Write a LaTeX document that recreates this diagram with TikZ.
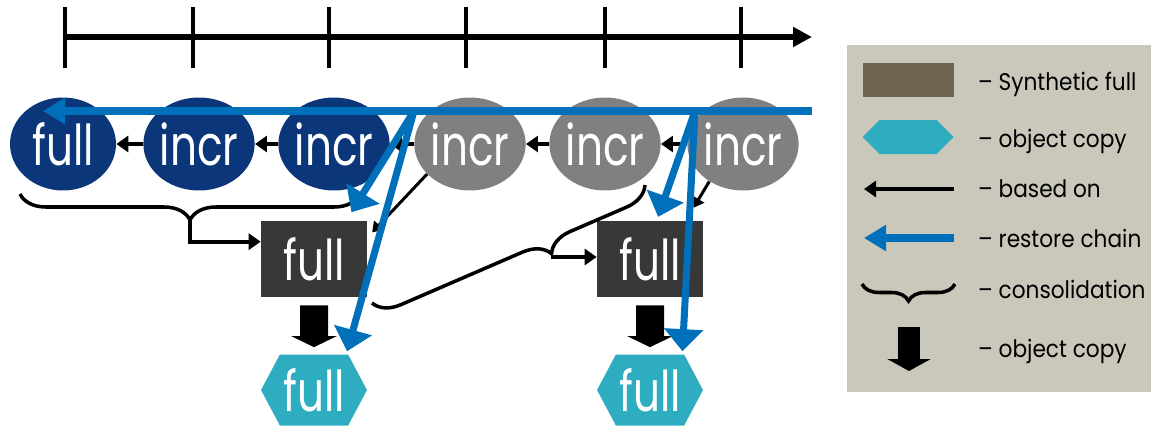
\documentclass[tikz,border=0pt]{standalone}
\usepackage{fontspec}
\setmainfont{Poppins}[FakeStretch=0.9]
\newfontfamily\chainfont{Poppins}[FakeStretch=0.75]
\usetikzlibrary{arrows.meta,shapes.geometric,shapes.symbols,decorations.pathreplacing}

\definecolor{fullblue}{RGB}{11,55,122}
\definecolor{incrgrey}{RGB}{128,128,128}
\definecolor{synthgrey}{RGB}{56,56,56}
\definecolor{copycyan}{RGB}{46,173,193}
\definecolor{restoreblue}{RGB}{0,112,186}
\definecolor{keybg}{RGB}{202,199,187}
\definecolor{keybrown}{RGB}{113,100,80}

\begin{document}
\begin{tikzpicture}[x=0.02cm,y=-0.02cm]
    \tikzset{
        bigtext/.style={text=white, font=\chainfont\fontsize{32}{32}\selectfont},
        backup/.style={ellipse, minimum width=2.12cm, minimum height=1.86cm, inner sep=0pt, bigtext},
        oldbk/.style={backup, fill=fullblue},
        newbk/.style={backup, fill=incrgrey},
        synth/.style={rectangle, fill=synthgrey, minimum width=2.12cm, minimum height=1.52cm, inner sep=0pt, bigtext},
        objcopy/.style={signal, signal to=west and east, signal pointer angle=124, fill=copycyan, minimum width=2.12cm, minimum height=1.42cm, inner sep=0pt, bigtext},
        basedon/.style={line width=2.2pt, -{Triangle[width=0.32cm,length=0.24cm]}},
        thinbased/.style={line width=1.7pt, -{Triangle[width=0.26cm,length=0.2cm]}},
        restore/.style={draw=restoreblue, line width=4pt, -{Triangle[width=0.76cm,length=0.44cm]}},
        restoreflat/.style={restore, -{Triangle[width=0.5cm,length=0.44cm]}},
        consol/.style={line width=2pt, decorate, decoration={brace, mirror, amplitude=0.52cm, aspect=#1}},
        copyarrow/.style={line width=0.56cm, -{Triangle[width=0.9cm,length=0.22cm]}},
        keytext/.style={anchor=base west, font=\fontsize{13.7}{14}\selectfont}
    }
    \useasboundingbox (0,0) rectangle (1155,430);

    % time line
    \draw[line width=0.13cm, -{Triangle[width=0.38cm,length=0.38cm]}] (65,37) -- (812,37);
    \foreach \x in {65,193,329,466,605,741}
        \draw[line width=0.08cm] (\x,7) -- (\x,68);

    % backups
    \node[oldbk] (f0) at (63,144) {full};
    \node[oldbk] (i1) at (199,144) {incr};
    \node[oldbk] (i2) at (334,144) {incr};
    \node[newbk] (i3) at (470,144) {incr};
    \node[newbk] (i4) at (605,144) {incr};
    \node[newbk] (i5) at (743,144) {incr};
    \draw[basedon] (i1) -- (f0);
    \draw[basedon] (i2) -- (i1);
    \draw[basedon] (i3) -- (i2);
    \draw[basedon] (i4) -- (i3);
    \draw[basedon] (i5) -- (i4);

    % synthetic fulls and copies
    \node[synth] (s1) at (314,259) {full};
    \node[synth] (s2) at (650,259) {full};
    \node[objcopy] (c1) at (314,390) {full};
    \node[objcopy] (c2) at (650,390) {full};
    \draw[copyarrow, shorten <=0.16cm, shorten >=0.14cm] (s1) -- (c1);
    \draw[copyarrow, shorten <=0.16cm, shorten >=0.14cm] (s2) -- (c2);

    % consolidation
    \coordinate (b1a) at (20,194);
    \coordinate (b1b) at (360,194);
    \coordinate (b1tip) at (190,220);
    \coordinate (b2a) at (372,303);
    \coordinate (b2b) at (645,185);
    \coordinate (b2tip) at (551,257);
    \draw[consol=0.5] (b1a) -- (b1b);
    \draw[consol=0.62] (b2a) -- (b2b);
    \draw[basedon] (b1tip) |- (s1.162);
    \draw[basedon] (b2tip) -- (b2tip -| s2.west);
    \draw[thinbased, shorten >=0.14cm] (i3.215) -- (s1.22);
    \draw[thinbased, shorten >=0.3cm] (i5.228) -- (s2.47);

    % restore chains
    \coordinate (rp0) at (812,111);
    \coordinate (rp1) at (414,111);
    \coordinate (rp2) at (695,111);
    \draw[restoreflat, shorten >=-0.4cm] (rp0) -- (f0 |- rp0);
    \draw[restore, shorten >=0.2cm] (rp1) -- (s1.50);
    \draw[restore, shorten >=0.06cm] (rp1) -- (c1.48);
    \draw[restore, shorten >=0.08cm] (rp2) -- (s2.80);
    \draw[restore, shorten >=0.06cm] (rp2) -- (c2.48);

    % key
    \fill[keybg] (847,45) rectangle (1151,392);
    \node[fill=keybrown, minimum width=1.82cm, minimum height=0.68cm, inner sep=0pt] (ksyn) at (908,80) {};
    \node[keytext] (tsyn) at (972,90) {– Synthetic full};
    \node[signal, signal to=west and east, signal pointer angle=90, fill=copycyan, minimum width=1.82cm, minimum height=0.68cm, inner sep=0pt] (kcopy) at (908,137) {};
    \node[keytext] (tcopy) at (972,147) {– object copy};
    \coordinate (kb1) at (954,189);
    \coordinate (kb2) at (864,189);
    \draw[basedon] (kb1) -- (kb2);
    \node[keytext] (tbased) at (972,197) {– based on};
    \coordinate (kr1) at (954,238);
    \coordinate (kr2) at (864,238);
    \draw[restoreflat] (kr1) -- (kr2);
    \node[keytext] (trest) at (972,247) {– restore chain};
    \coordinate (kc1) at (862,284);
    \coordinate (kc2) at (955,284);
    \draw[line width=2pt, decorate, decoration={brace, mirror, amplitude=0.34cm}] (kc1) -- (kc2);
    \node[keytext] (tcons) at (972,298) {– consolidation};
    \coordinate (ka1) at (909,327);
    \coordinate (ka2) at (909,371);
    \draw[line width=0.44cm, -{Triangle[width=0.86cm,length=0.24cm]}] (ka1) -- (ka2);
    \node[keytext] (tcopy2) at (972,357) {– object copy};
\end{tikzpicture}
\end{document}
